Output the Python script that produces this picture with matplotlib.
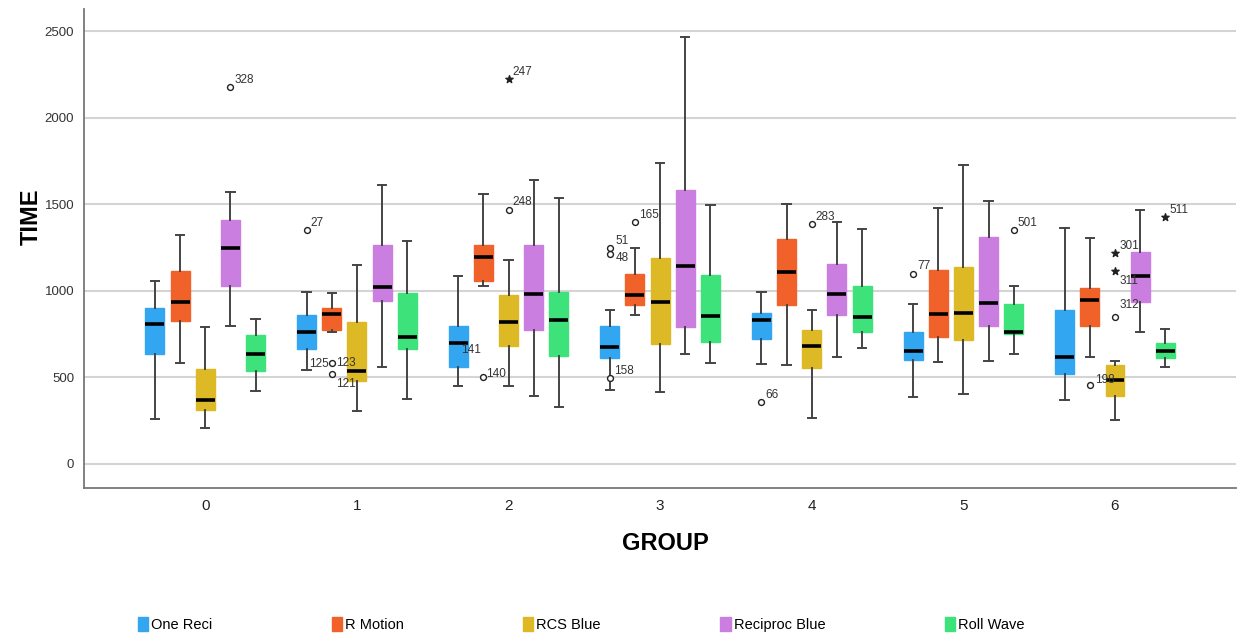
import matplotlib.pyplot as plt
from matplotlib.patches import Patch

plt.rcParams['font.family'] = ['Liberation Sans', 'DejaVu Sans']

groups = [0, 1, 2, 3, 4, 5, 6]
series = ['One Reci', 'R Motion', 'RCS Blue', 'Reciproc Blue', 'Roll Wave']
colors = ['#33a6f2', '#f0622a', '#dcb925', '#c97ee0', '#3de37a']

# whisker low, Q1, median, Q3, whisker high per group
one_reci = [
    [258, 636, 809, 900, 1058],
    [543, 665, 759, 860, 994],
    [449, 561, 701, 794, 1087],
    [428, 611, 676, 796, 888],
    [574, 724, 829, 873, 992],
    [387, 601, 649, 761, 921],
    [370, 520, 617, 888, 1366],
]
r_motion = [
    [584, 823, 935, 1117, 1324],
    [763, 775, 867, 902, 990],
    [1029, 1058, 1193, 1266, 1561],
    [859, 919, 973, 1100, 1250],
    [572, 919, 1108, 1302, 1501],
    [591, 730, 865, 1119, 1476],
    [620, 794, 946, 1019, 1308],
]
rcs_blue = [
    [206, 308, 368, 547, 790],
    [304, 476, 538, 817, 1148],
    [451, 678, 819, 975, 1179],
    [416, 692, 936, 1187, 1738],
    [266, 551, 682, 773, 890],
    [403, 713, 869, 1137, 1730],
    [254, 393, 484, 570, 595],
]
reciproc_blue = [
    [794, 1025, 1247, 1410, 1570],
    [562, 940, 1021, 1262, 1613],
    [393, 773, 984, 1266, 1642],
    [636, 788, 1146, 1582, 2466],
    [617, 859, 979, 1154, 1399],
    [594, 798, 929, 1312, 1520],
    [761, 938, 1087, 1227, 1470],
]
roll_wave = [
    [420, 538, 634, 747, 836],
    [374, 665, 730, 987, 1289],
    [329, 624, 832, 992, 1539],
    [584, 703, 855, 1090, 1495],
    [667, 759, 846, 1027, 1357],
    [636, 748, 763, 921, 1025],
    [561, 614, 653, 698, 780],
]
all_series = [one_reci, r_motion, rcs_blue, reciproc_blue, roll_wave]

# outliers: group, series index, value, case label, marker kind
out_group = [0, 1, 1, 1, 2, 2, 2, 3, 3, 3, 3, 4, 4, 5, 5, 6, 6, 6, 6, 6]
out_series = [3, 0, 1, 1, 1, 2, 2, 0, 1, 1, 1, 0, 2, 0, 4, 1, 2, 2, 2, 4]
out_value = [2177, 1349, 582, 518, 499, 2225, 1470, 495, 1399, 1248, 1212,
             357, 1387, 1100, 1349, 453, 1218, 1114, 851, 1424]
out_label = ['328', '27', '125', '121', '140', '247', '248', '158', '165', '51', '48',
             '66', '283', '77', '501', '198', '301', '311', '312', '511']
out_kind = ['o', 'o', 'o', 'o', 'o', '*', 'o', 'o', 'o', 'o', 'o',
            'o', 'o', 'o', 'o', 'o', '*', '*', 'o', '*']

step = 0.166
width = 0.125

fig = plt.figure(figsize=(12.39, 6.37), dpi=100)
ax = fig.add_axes([0.0678, 0.234, 0.930, 0.752])

for s, data in enumerate(all_series):
    stats = []
    for row in data:
        lo, q1, med, q3, hi = row
        stats.append(dict(whislo=lo, q1=q1, med=med, q3=q3, whishi=hi, fliers=[]))
    pos = [g + (s - 2) * step for g in groups]
    ax.bxp(stats, positions=pos, widths=width, capwidths=0.055, patch_artist=True,
           showfliers=False, manage_ticks=False,
           boxprops=dict(facecolor=colors[s], edgecolor=colors[s], linewidth=1),
           medianprops=dict(color='black', linewidth=2.6),
           whiskerprops=dict(color='#444444', linewidth=1.4),
           capprops=dict(color='#444444', linewidth=1.4))

label_offset = {'125': (-16, -3), '121': (3, -9), '140': (2, 0), '51': (4, 3),
                '48': (4, -5), '311': (3, -9), '312': (3, 6), '198': (4, 2)}
for g, s, v, lab, k in zip(out_group, out_series, out_value, out_label, out_kind):
    x = g + (s - 2) * step
    if lab in ('51', '48'):
        x -= step
    if k == 'o':
        ax.scatter([x], [v], s=18, facecolors='white', edgecolors='#222222',
                   linewidths=1.0, zorder=4)
    else:
        ax.scatter([x], [v], s=30, marker='*', color='#222222', zorder=4)
    dx, dy = label_offset.get(lab, (3, 3))
    ax.annotate(lab, (x, v), xytext=(dx, dy), textcoords='offset points',
                fontsize=8.5, color='#333333')

ax.annotate('141', (2 - 2 * step, 640), xytext=(2, 0), textcoords='offset points',
            fontsize=8.5, color='#333333')
ax.annotate('123', (1 - step, 540), xytext=(3, 3), textcoords='offset points',
            fontsize=8.5, color='#333333')

ax.set_xlim(-0.8, 6.8)
ax.set_ylim(-140, 2630)
ax.set_xticks(groups)
ax.set_yticks([0, 500, 1000, 1500, 2000, 2500])
ax.tick_params(axis='x', length=0, labelsize=11, pad=8, colors='#222222')
ax.tick_params(axis='y', length=0, labelsize=9.5, pad=7, colors='#333333')
ax.yaxis.grid(True, color='#d4d4d4', linewidth=1.5)
ax.set_axisbelow(True)
for side in ('top', 'right'):
    ax.spines[side].set_visible(False)
for side in ('left', 'bottom'):
    ax.spines[side].set_color('#777777')
    ax.spines[side].set_linewidth(1.3)

fig.text(0.025, 0.66, 'TIME', rotation=90, fontsize=17, fontweight='bold',
         ha='center', va='center')
fig.text(0.537, 0.147, 'GROUP', fontsize=17, fontweight='bold', ha='center', va='center')

handles = [Patch(facecolor=c, edgecolor=c) for c in colors]
fig.legend(handles, series, loc='center left', bbox_to_anchor=(0.1005, 0.019), ncol=5,
           frameon=False, fontsize=10.5, handlelength=0.7, handleheight=1.1,
           handletextpad=0.2, columnspacing=8.2)

fig.savefig('out.png', dpi=100)
